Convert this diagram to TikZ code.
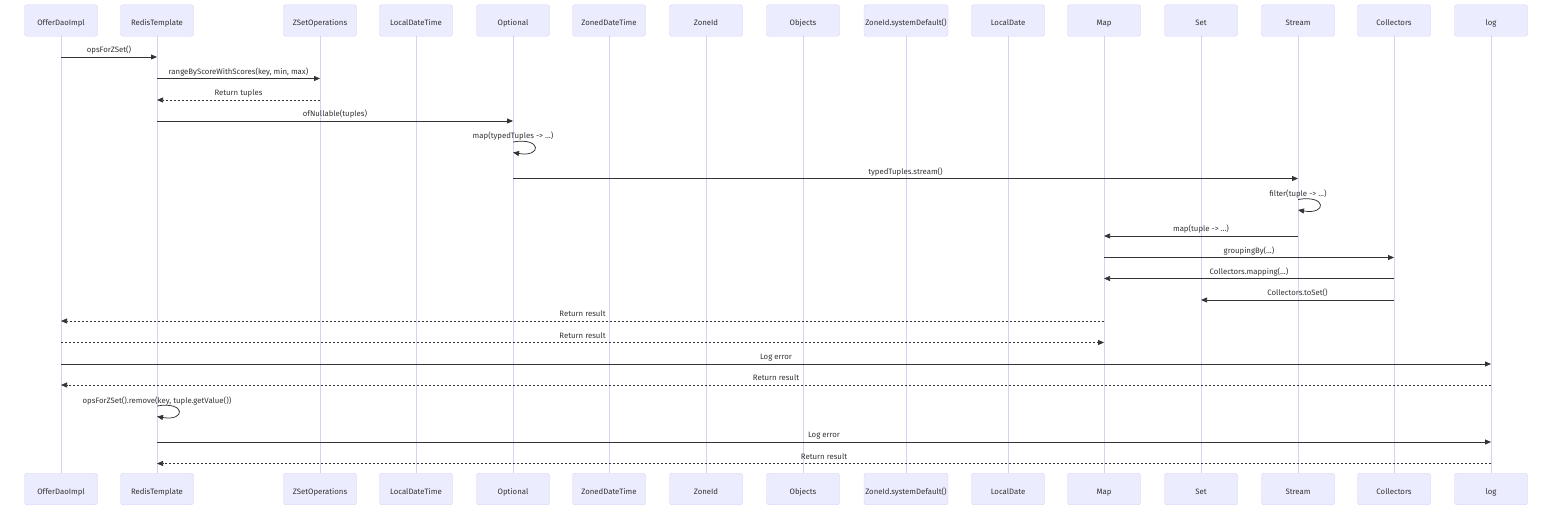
\documentclass[tikz,border=0pt]{standalone}
\usepackage{fontspec}
\setmainfont{Fira Sans}
\usetikzlibrary{arrows.meta}
\definecolor{actfill}{HTML}{ECECFF}
\definecolor{actline}{HTML}{D8D0F4}
\definecolor{msgc}{HTML}{333333}
\definecolor{txt}{HTML}{333333}
\begin{document}
\begin{tikzpicture}[x=1pt,y=-1pt,
  actor/.style={draw=actline, fill=actfill, rounded corners=2.5pt, minimum width=73pt, minimum height=31.5pt, inner sep=0pt, text height=10pt, text depth=0pt, font=\fontsize{7.8}{9}\selectfont, text=txt},
  life/.style={draw=actline, line width=0.9pt},
  msg/.style={draw=msgc, line width=0.75pt, -{Triangle[length=6pt,width=5pt]}},
  ret/.style={msg, dash pattern=on 2pt off 2pt},
  lbl/.style={anchor=base, font=\fontsize{7.8}{9}\selectfont, text=txt, inner sep=0pt, yshift=4.2pt},
  slbl/.style={anchor=base, font=\fontsize{7.8}{9}\selectfont, text=txt, inner sep=0pt}
]
\useasboundingbox (0,0) rectangle (1568,516);
% participants
\foreach \i/\x/\name/\w in {1/61/OfferDaoImpl/73, 2/157/RedisTemplate/73, 3/320/ZSetOperations/73, 4/416/LocalDateTime/73, 5/513/Optional/73, 6/609/ZonedDateTime/73, 7/706/ZoneId/73, 8/803/Objects/73, 9/906/ZoneId.systemDefault()/84, 10/1008/LocalDate/73, 11/1104/Map/73, 12/1201/Set/73, 13/1298/Stream/73, 14/1394/Collectors/73, 15/1491/log/73}{
  \node[actor, minimum width=\w pt] (t\i) at (\x,20.5) {\name};
  \node[actor, minimum width=\w pt] (b\i) at (\x,489) {\name};
}
\foreach \i in {1,...,15}{
  \draw[life] (t\i.south) -- (b\i.north);
}
% message rows
\coordinate (y1) at (0,57);
\coordinate (y2) at (0,78.5);
\coordinate (y3) at (0,100);
\coordinate (y4) at (0,121);
\coordinate (s1a) at (0,142);
\coordinate (s1b) at (0,152.5);
\coordinate (y6) at (0,178.5);
\coordinate (s2a) at (0,199.5);
\coordinate (s2b) at (0,210);
\coordinate (y8) at (0,236);
\coordinate (y9) at (0,257.5);
\coordinate (y10) at (0,278.5);
\coordinate (y11) at (0,300);
\coordinate (y12) at (0,321);
\coordinate (y13) at (0,342.5);
\coordinate (y14) at (0,364);
\coordinate (y15) at (0,385);
\coordinate (s3a) at (0,406);
\coordinate (s3b) at (0,416.5);
\coordinate (y17) at (0,442);
\coordinate (y18) at (0,463.5);

\draw[msg] (t1 |- y1) -- node[lbl]{opsForZSet()} (t2 |- y1);
\draw[msg] (t2 |- y2) -- node[lbl]{rangeByScoreWithScores(key, min, max)} (t3 |- y2);
\draw[ret] (t3 |- y3) -- node[lbl]{Return tuples} (t2 |- y3);
\draw[msg] (t2 |- y4) -- node[lbl]{ofNullable(tuples)} (t5 |- y4);
\node[slbl] (l5) at ([yshift=3pt]t5 |- s1a) {map(typedTuples -> ...)};
\draw[msg] (t5 |- s1a) .. controls +(29,-5) and +(29,5) .. (t5 |- s1b);
\draw[msg] (t5 |- y6) -- node[lbl]{typedTuples.stream()} (t13 |- y6);
\node[slbl] (l7) at ([yshift=3pt]t13 |- s2a) {filter(tuple -> ...)};
\draw[msg] (t13 |- s2a) .. controls +(29,-5) and +(29,5) .. (t13 |- s2b);
\draw[msg] (t13 |- y8) -- node[lbl]{map(tuple -> ...)} (t11 |- y8);
\draw[msg] (t11 |- y9) -- node[lbl]{groupingBy(...)} (t14 |- y9);
\draw[msg] (t14 |- y10) -- node[lbl]{Collectors.mapping(...)} (t11 |- y10);
\draw[msg] (t14 |- y11) -- node[lbl]{Collectors.toSet()} (t12 |- y11);
\draw[ret] (t11 |- y12) -- node[lbl]{Return result} (t1 |- y12);
\draw[ret] (t1 |- y13) -- node[lbl]{Return result} (t11 |- y13);
\draw[msg] (t1 |- y14) -- node[lbl]{Log error} (t15 |- y14);
\draw[ret] (t15 |- y15) -- node[lbl]{Return result} (t1 |- y15);
\node[slbl] (l16) at ([yshift=3pt]t2 |- s3a) {opsForZSet().remove(key, tuple.getValue())};
\draw[msg] (t2 |- s3a) .. controls +(29,-5) and +(29,5) .. (t2 |- s3b);
\draw[msg] (t2 |- y17) -- node[lbl]{Log error} (t15 |- y17);
\draw[ret] (t15 |- y18) -- node[lbl]{Return result} (t2 |- y18);
\end{tikzpicture}
\end{document}
